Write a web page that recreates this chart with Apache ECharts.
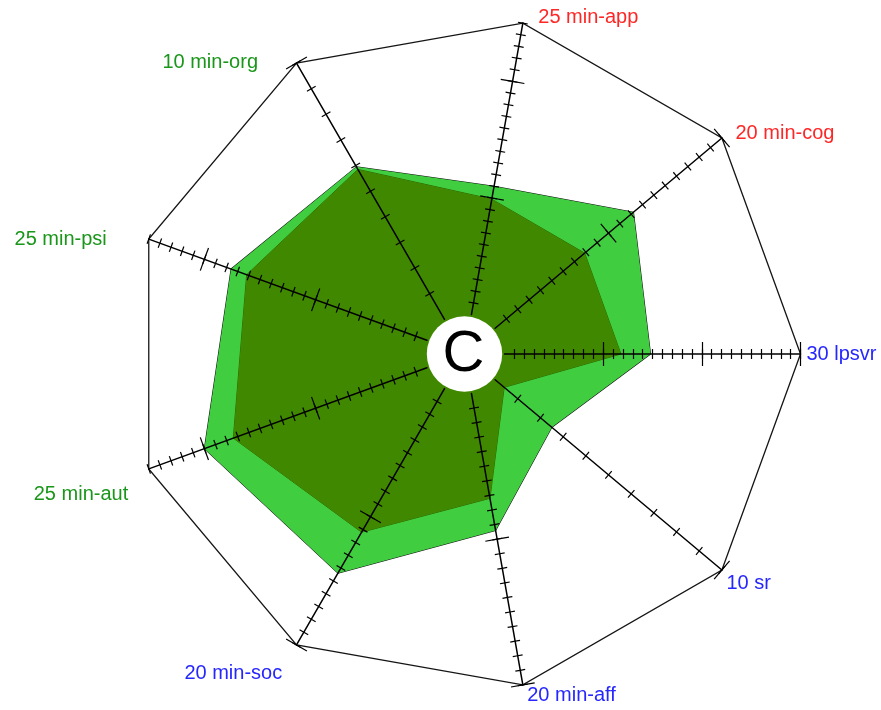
<!DOCTYPE html>
<html><head><meta charset="utf-8">
<script src="https://cdn.jsdelivr.net/npm/echarts@6/dist/echarts.min.js"></script>
<style>html,body{margin:0;padding:0;background:#fff}#main{width:881px;height:710px}</style>
</head><body><div id="main"></div>
<script>
// ---- data ----
const indicatorNames = ['30 lpsvr','20 min-cog','25 min-app','10 min-org','25 min-psi','25 min-aut','20 min-soc','20 min-aff','10 sr'];
const indicatorMax = [30, 20, 25, 10, 25, 25, 20, 20, 10];
const majorTickValues = [10, 20, 30];
const minorTickStep = 1;
const seriesLight = [14.8, 12.2, 11.0, 5.95, 17.6, 20.0, 14.4, 9.4, 2.5];
const seriesDark  = [11.8, 7.9, 9.9, 5.85, 16.2, 17.4, 11.2, 7.2, 0.4];
const centerLabel = 'C';

// ---- styles / layout ----
const CENTER = [464.5, 354];
const RADIUS = [40, 336];
const labelColors = ['#2626ff','#ff2626','#ff2626','#1a961a','#1a961a','#1a961a','#2626ff','#2626ff','#2626ff'];
const labelGap    = [0, 7.3, 5.5, 1, 0, 46.8, 21.4, 1, 5.1];
const labelAlign  = ['left','left','left','right','right','center','right','left','left'];
const labelVAlign = ['middle','middle','middle','middle','middle','top','top','top','top'];
const labelPadding = [[0,0,0,6],[0,0,0,8],[0,0,0,14.5],[0,38,0,0],[0,42,0,0],[0,47.6,0,0],[0,3.6,0,0],[0,0,0,4.2],[0,0,0,0.7]];
const tickStyle = {color:'#000', width:1.2};

function minorValues(max){ const out=[]; for(let v=minorTickStep; v<=max; v+=minorTickStep) out.push(v); return out; }

function nameIndicators(){
  return indicatorNames.map((name,i)=>({
    name: name, min: 0, max: indicatorMax[i], color: labelColors[i], nameGap: labelGap[i],
    nameTextStyle: {align: labelAlign[i], verticalAlign: labelVAlign[i], padding: labelPadding[i]}
  }));
}
function tickIndicators(major){
  return indicatorNames.map((name,i)=>({
    name: name, min: 0, max: indicatorMax[i],
    axisTick: {customValues: major ? majorTickValues.filter(v=>v<=indicatorMax[i]) : minorValues(indicatorMax[i])}
  }));
}

const common = {
  center: CENTER, radius: RADIUS, startAngle: 0, splitNumber: 1, shape: 'polygon', z: 3,
  splitArea: {show:false}
};
function tickRadar(major, len){
  return Object.assign({}, common, {
    axisName: {show:false}, axisLine: {show:false}, splitLine: {show:false},
    axisTick: {show:true, length: len, lineStyle: tickStyle},
    indicator: tickIndicators(major)
  });
}

const chart = echarts.init(document.getElementById('main'));
chart.setOption({
  animation: false,
  backgroundColor: '#fff',
  radar: [
    Object.assign({}, common, {
      axisNameGap: 0,
      axisName: {show:true, fontSize:20, fontFamily:'Liberation Sans'},
      axisLine: {show:true, lineStyle:{color:'#000', width:1.5}},
      splitLine: {show:true, lineStyle:{color:['rgba(0,0,0,0)','#151515'], width:1.3}},
      axisTick: {show:false},
      indicator: nameIndicators()
    }),
    tickRadar(false, 5),
    tickRadar(false, -5),
    tickRadar(true, 12),
    tickRadar(true, -12)
  ],
  series: [{
    type: 'radar', radarIndex: 0, symbol: 'none', z: 2, silent: true,
    data: [
      {value: seriesLight, areaStyle:{color:'#40cd40', opacity:1}, lineStyle:{color:'#111', width:1.1}},
      {value: seriesDark, areaStyle:{color:'#408800', opacity:1}, lineStyle:{color:'#2e6b00', width:1}}
    ]
  }],
  graphic: [
    {type:'circle', z:100, shape:{cx:CENTER[0], cy:CENTER[1], r:37.7}, style:{fill:'#fff'}},
    {type:'text', z:101, x:CENTER[0]-1, y:CENTER[1]+1, style:{text:centerLabel, font:'58px "Liberation Sans"', fill:'#000', align:'center', verticalAlign:'middle'}}
  ]
});
</script>
</body></html>
